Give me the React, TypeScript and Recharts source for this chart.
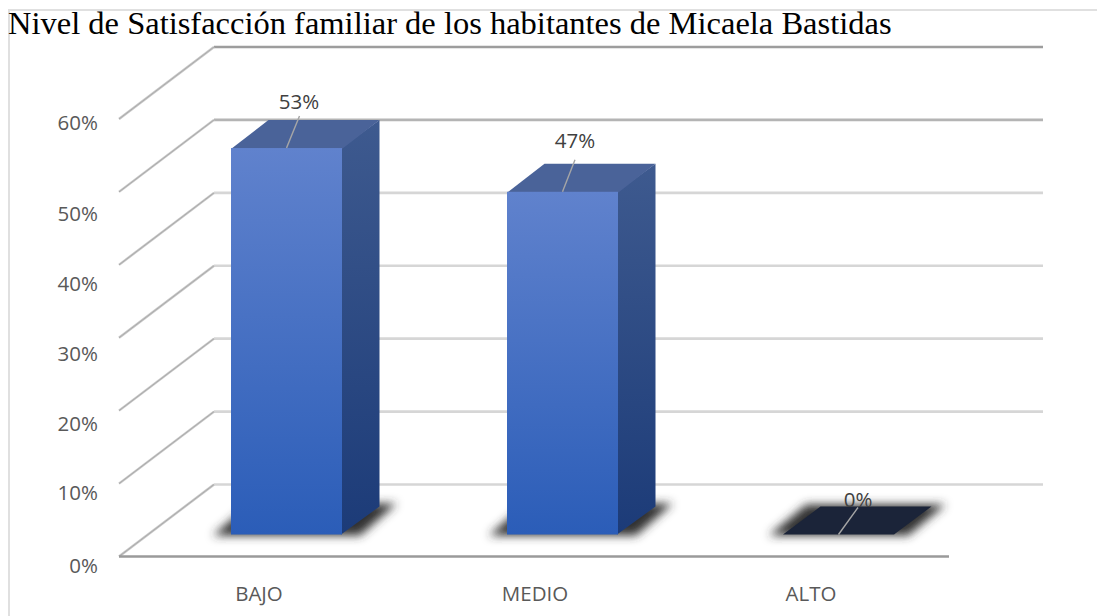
import React from "react";
import { ComposedChart, Bar, XAxis, YAxis, LabelList, CartesianGrid } from "recharts";

const categories = ["BAJO", "MEDIO", "ALTO"];
const percentValues = [53, 47, 0];
const axisTicks = [0, 10, 20, 30, 40, 50, 60];
const chartTitle = "Nivel de Satisfacción familiar de los habitantes de Micaela Bastidas";

const rows = categories.map((name, i) => ({ name, value: percentValues[i] }));

// Styling of the hand-made 3D projection
const DEPTH_X = 37.5;
const DEPTH_Y = 28;
const WALL_BACK_DY = -50;
const WALL_FRONT_DY = 22;
const WALL_LEFT = 119;
const WALL_BACK_LEFT = 214;
const WALL_RIGHT = 1043;
const FLOOR_RIGHT = 949;
const AXIS_LABEL_RIGHT = 98;
const PLOT_TOP = 97;
const PLOT_BOTTOM = 534.5;
const axisLabelY: Record<number, number> = { 0: 565, 10: 492, 20: 423, 30: 353, 40: 283, 50: 213, 60: 122 };
const gridColor = (v: number) => (v === 60 ? "#9d9d9d" : v === 50 ? "#b4b4b4" : "#d6d6d6");
const FONT = "'Open Sans', sans-serif";
const TEXT = "#595959";

const WallRow = (props: any) => {
  const y = props.y1 as number;
  const v = Math.round(((PLOT_BOTTOM - y) / (PLOT_BOTTOM - PLOT_TOP)) * 6) * 10;
  const back = y + WALL_BACK_DY;
  const front = y + WALL_FRONT_DY;
  return (
    <g key={props.key}>
      <line x1={WALL_BACK_LEFT} y1={back} x2={WALL_RIGHT} y2={back} stroke={gridColor(v)} strokeWidth={2.6} />
      <line x1={WALL_LEFT} y1={front} x2={WALL_BACK_LEFT} y2={back} stroke="#c6c6c6" strokeWidth={2.4} />
      <line x1={WALL_LEFT} y1={front} x2={WALL_BACK_LEFT} y2={back} stroke="#999" strokeWidth={0.6} />
      {v === 0 && (
        <line x1={WALL_LEFT} y1={front} x2={FLOOR_RIGHT} y2={front} stroke="#9a9a9a" strokeWidth={2.4} />
      )}
    </g>
  );
};

const AxisLabel = (props: any) => {
  const v = props.payload.value as number;
  return (
    <text x={AXIS_LABEL_RIGHT} y={axisLabelY[v]} textAnchor="end" dominantBaseline="central"
      fontFamily={FONT} fontSize={20.5} fill={TEXT}>{`${v}%`}</text>
  );
};

const CategoryTick = (props: any) => {
  const { x, y, payload } = props;
  return (
    <text x={x - 27} y={y + 50.5} textAnchor="middle" dominantBaseline="central"
      fontFamily={FONT} fontSize={20.5} fill={TEXT}>{payload.value}</text>
  );
};

const Bar3D = (props: any) => {
  const { x, y, width, height, index } = props;
  const bottom = y + height;
  const r = x + width;
  const flat = height < 1;
  const p = (pts: number[][]) => pts.map((a) => a.join(",")).join(" ");
  return (
    <g>
      <defs>
        <linearGradient id={`front${index}`} x1="0" y1="0" x2="0" y2="1">
          <stop offset="0%" stopColor="#6082cd" />
          <stop offset="100%" stopColor="#2b5db8" />
        </linearGradient>
        <linearGradient id={`side${index}`} x1="0" y1="0" x2="0" y2="1">
          <stop offset="0%" stopColor="#3e5a8f" />
          <stop offset="100%" stopColor="#1c3b78" />
        </linearGradient>
        <filter id={`blur${index}`} filterUnits="userSpaceOnUse" x={x - 80} y={bottom - 80} width={width + 200} height={120}>
          <feGaussianBlur stdDeviation={5} />
        </filter>
      </defs>
      <polygon
        points={p(
          flat
            ? [[x - 14, bottom + 1], [r + 14, bottom + 1], [r + DEPTH_X + 14, bottom - DEPTH_Y - 2], [x + DEPTH_X - 14, bottom - DEPTH_Y - 2]]
            : [[x - 18, bottom + 1], [r + 18, bottom + 1], [r + DEPTH_X + 17, bottom - DEPTH_Y - 3], [x + DEPTH_X - 18, bottom - DEPTH_Y - 3]]
        )}
        fill="#333"
        filter={`url(#blur${index})`}
      />
      {flat ? (
        <polygon points={p([[x, bottom], [r, bottom], [r + DEPTH_X, bottom - DEPTH_Y], [x + DEPTH_X, bottom - DEPTH_Y]])} fill="#1b2439" />
      ) : (
        <g>
          <polygon points={p([[r - 1, y], [r + DEPTH_X, y - DEPTH_Y], [r + DEPTH_X, bottom - DEPTH_Y], [r - 1, bottom]])} fill={`url(#side${index})`} />
          <polygon points={p([[x, y + 1], [x + DEPTH_X, y - DEPTH_Y], [r + DEPTH_X, y - DEPTH_Y], [r, y + 1]])} fill="#4a6399" />
          <rect x={x} y={y} width={width} height={height} fill={`url(#front${index})`} />
        </g>
      )}
    </g>
  );
};

const labelOffset = (v: number) =>
  v === 0
    ? { lx: 19.5, ly: -27, tx: 19.5, ty: -36 }
    : v === 53
    ? { lx: 13, ly: -32, tx: 12.5, ty: -47 }
    : { lx: 12.5, ly: -32, tx: 12.5, ty: -52 };

const LeaderLabel = (props: any) => {
  const { x, y, width, value } = props;
  const cx = x + width / 2;
  const o = labelOffset(value);
  return (
    <g>
      <line x1={cx} y1={y} x2={cx + o.lx} y2={y + o.ly} stroke="#a6a6a6" strokeWidth={1.4} />
      <text x={cx + o.tx} y={y + o.ty} textAnchor="middle" dominantBaseline="central"
        fontFamily={FONT} fontSize={20.5} fill="#404040">{`${value}%`}</text>
    </g>
  );
};

export default function App() {
  return (
    <div style={{ position: "absolute", left: 0, top: 0, width: 1097, height: 616, background: "#fff", overflow: "hidden" }}>
      <div style={{ position: "absolute", left: 8, top: 9, right: 0, bottom: 0, borderLeft: "2px solid #e0e0e0", borderTop: "2px solid #e0e0e0" }} />
      <ComposedChart
        width={1097}
        height={616}
        data={rows}
        margin={{ top: PLOT_TOP, right: 121, bottom: 51.5, left: 0 }}
        style={{ position: "absolute", left: 0, top: 0 }}
      >
        <CartesianGrid vertical={false} horizontal={(p: any) => <WallRow {...p} />} horizontalValues={axisTicks} />
        <YAxis
          type="number"
          domain={[0, 60]}
          ticks={axisTicks}
          width={148}
          axisLine={false}
          tickLine={false}
          interval={0}
          tick={<AxisLabel />}
        />
        <XAxis dataKey="name" height={30} axisLine={false} tickLine={false} interval={0} tick={<CategoryTick />} />
        <Bar dataKey="value" barSize={111} isAnimationActive={false} shape={<Bar3D />}>
          <LabelList dataKey="value" content={<LeaderLabel />} />
        </Bar>
      </ComposedChart>
      <div
        style={{
          position: "absolute",
          left: 8,
          top: 5,
          fontFamily: "'Liberation Serif', serif",
          fontSize: 32.5,
          lineHeight: "36px",
          color: "#000",
          whiteSpace: "nowrap",
        }}
      >
        {chartTitle}
      </div>
    </div>
  );
}
